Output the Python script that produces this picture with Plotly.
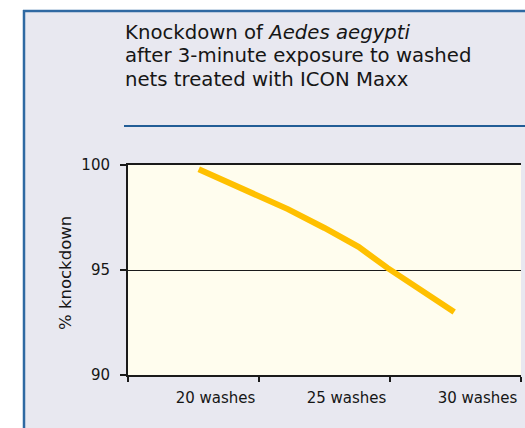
import plotly.graph_objects as go

# Data
washes = [20.2, 23.6, 25.0, 26.3, 27.4, 29.95]
knockdown = [99.8, 97.9, 97.0, 96.1, 95.1, 93.0]

x_tick_vals = [20, 25, 30]
x_tick_text = ["20 washes", "25 washes", "30 washes"]
x_boundaries = [17.5, 22.5, 27.5, 32.5]
y_tick_vals = [90, 95, 100]

title_lines = [
    "Knockdown of <i>Aedes aegypti</i>",
    "after 3-minute exposure to washed",
    "nets treated with ICON Maxx",
]
y_title = "% knockdown"

W, H = 525, 428
L, R, T, B = 128, 4, 165, 53
PW, PH = W - L - R, H - T - B


def xp(px):
    return (px - L) / PW


def yp(py):
    return (H - B - py) / PH


FONT = "DejaVu Sans"
BORDER = "#2f69a2"
TEXT = "#161616"

fig = go.Figure()
fig.add_trace(go.Scatter(
    x=washes, y=knockdown, mode="lines",
    line=dict(color="#ffc000", width=6),
    hoverinfo="skip", showlegend=False,
))

shapes = [
    # white outside the box
    dict(type="rect", xref="paper", yref="paper", x0=xp(-20), x1=xp(23), y0=yp(460), y1=yp(-20),
         fillcolor="white", line=dict(width=0), layer="below"),
    dict(type="rect", xref="paper", yref="paper", x0=xp(-20), x1=xp(560), y0=yp(10), y1=yp(-20),
         fillcolor="white", line=dict(width=0), layer="below"),
    # box borders
    dict(type="line", xref="paper", yref="paper", x0=xp(24), x1=xp(24), y0=yp(10), y1=yp(460),
         line=dict(color=BORDER, width=2.5)),
    dict(type="line", xref="paper", yref="paper", x0=xp(23), x1=xp(560), y0=yp(11), y1=yp(11),
         line=dict(color=BORDER, width=2.5)),
    # rule under title
    dict(type="line", xref="paper", yref="paper", x0=xp(124), x1=xp(560), y0=yp(126), y1=yp(126),
         line=dict(color="#225d96", width=2)),
]

annotations = []
title_centers = [32.5, 55.8, 79.1]
for txt, cy in zip(title_lines, title_centers):
    annotations.append(dict(
        text=txt, xref="paper", yref="paper", x=xp(123), y=yp(cy),
        xanchor="left", yanchor="middle", showarrow=False,
        font=dict(family=FONT, size=19.7, color=TEXT),
    ))
annotations.append(dict(
    text=y_title, xref="paper", yref="paper", x=xp(65), y=yp(273),
    xanchor="center", yanchor="middle", textangle=-90, showarrow=False,
    font=dict(family=FONT, size=16.5, color=TEXT),
))

fig.update_layout(
    width=W, height=H,
    margin=dict(l=L, r=R, t=T, b=B, pad=0),
    paper_bgcolor="#e8e8f0",
    plot_bgcolor="#fffdee",
    shapes=shapes,
    annotations=annotations,
    font=dict(family=FONT, color=TEXT),
    xaxis=dict(
        range=[17.5, 32.5], showgrid=False, zeroline=False,
        showline=True, linecolor="#1a1a1a", linewidth=1.8, mirror=True,
        tickmode="array", tickvals=x_tick_vals, ticktext=x_tick_text,
        ticks="", ticklabelshift=22, ticklabelstandoff=8,
        tickfont=dict(family=FONT, size=15, color=TEXT),
        minor=dict(tickmode="array", tickvals=x_boundaries, ticks="outside",
                   ticklen=5, tickwidth=1.5, tickcolor="#1a1a1a", showgrid=False),
        fixedrange=True,
    ),
    yaxis=dict(
        range=[90, 100], showgrid=True, gridcolor="#1a1a1a", gridwidth=1.2,
        zeroline=False, showline=True, linecolor="#1a1a1a", linewidth=2,
        tickmode="array", tickvals=y_tick_vals,
        ticks="outside", ticklen=6, tickwidth=1.5, tickcolor="#1a1a1a",
        ticklabelstandoff=7,
        tickfont=dict(family=FONT, size=15, color=TEXT),
        fixedrange=True,
    ),
)

fig.write_html(
    "out.html",
    config=dict(displayModeBar=False),
    post_script="document.body.style.margin='0';document.body.style.overflow='hidden';",
)
